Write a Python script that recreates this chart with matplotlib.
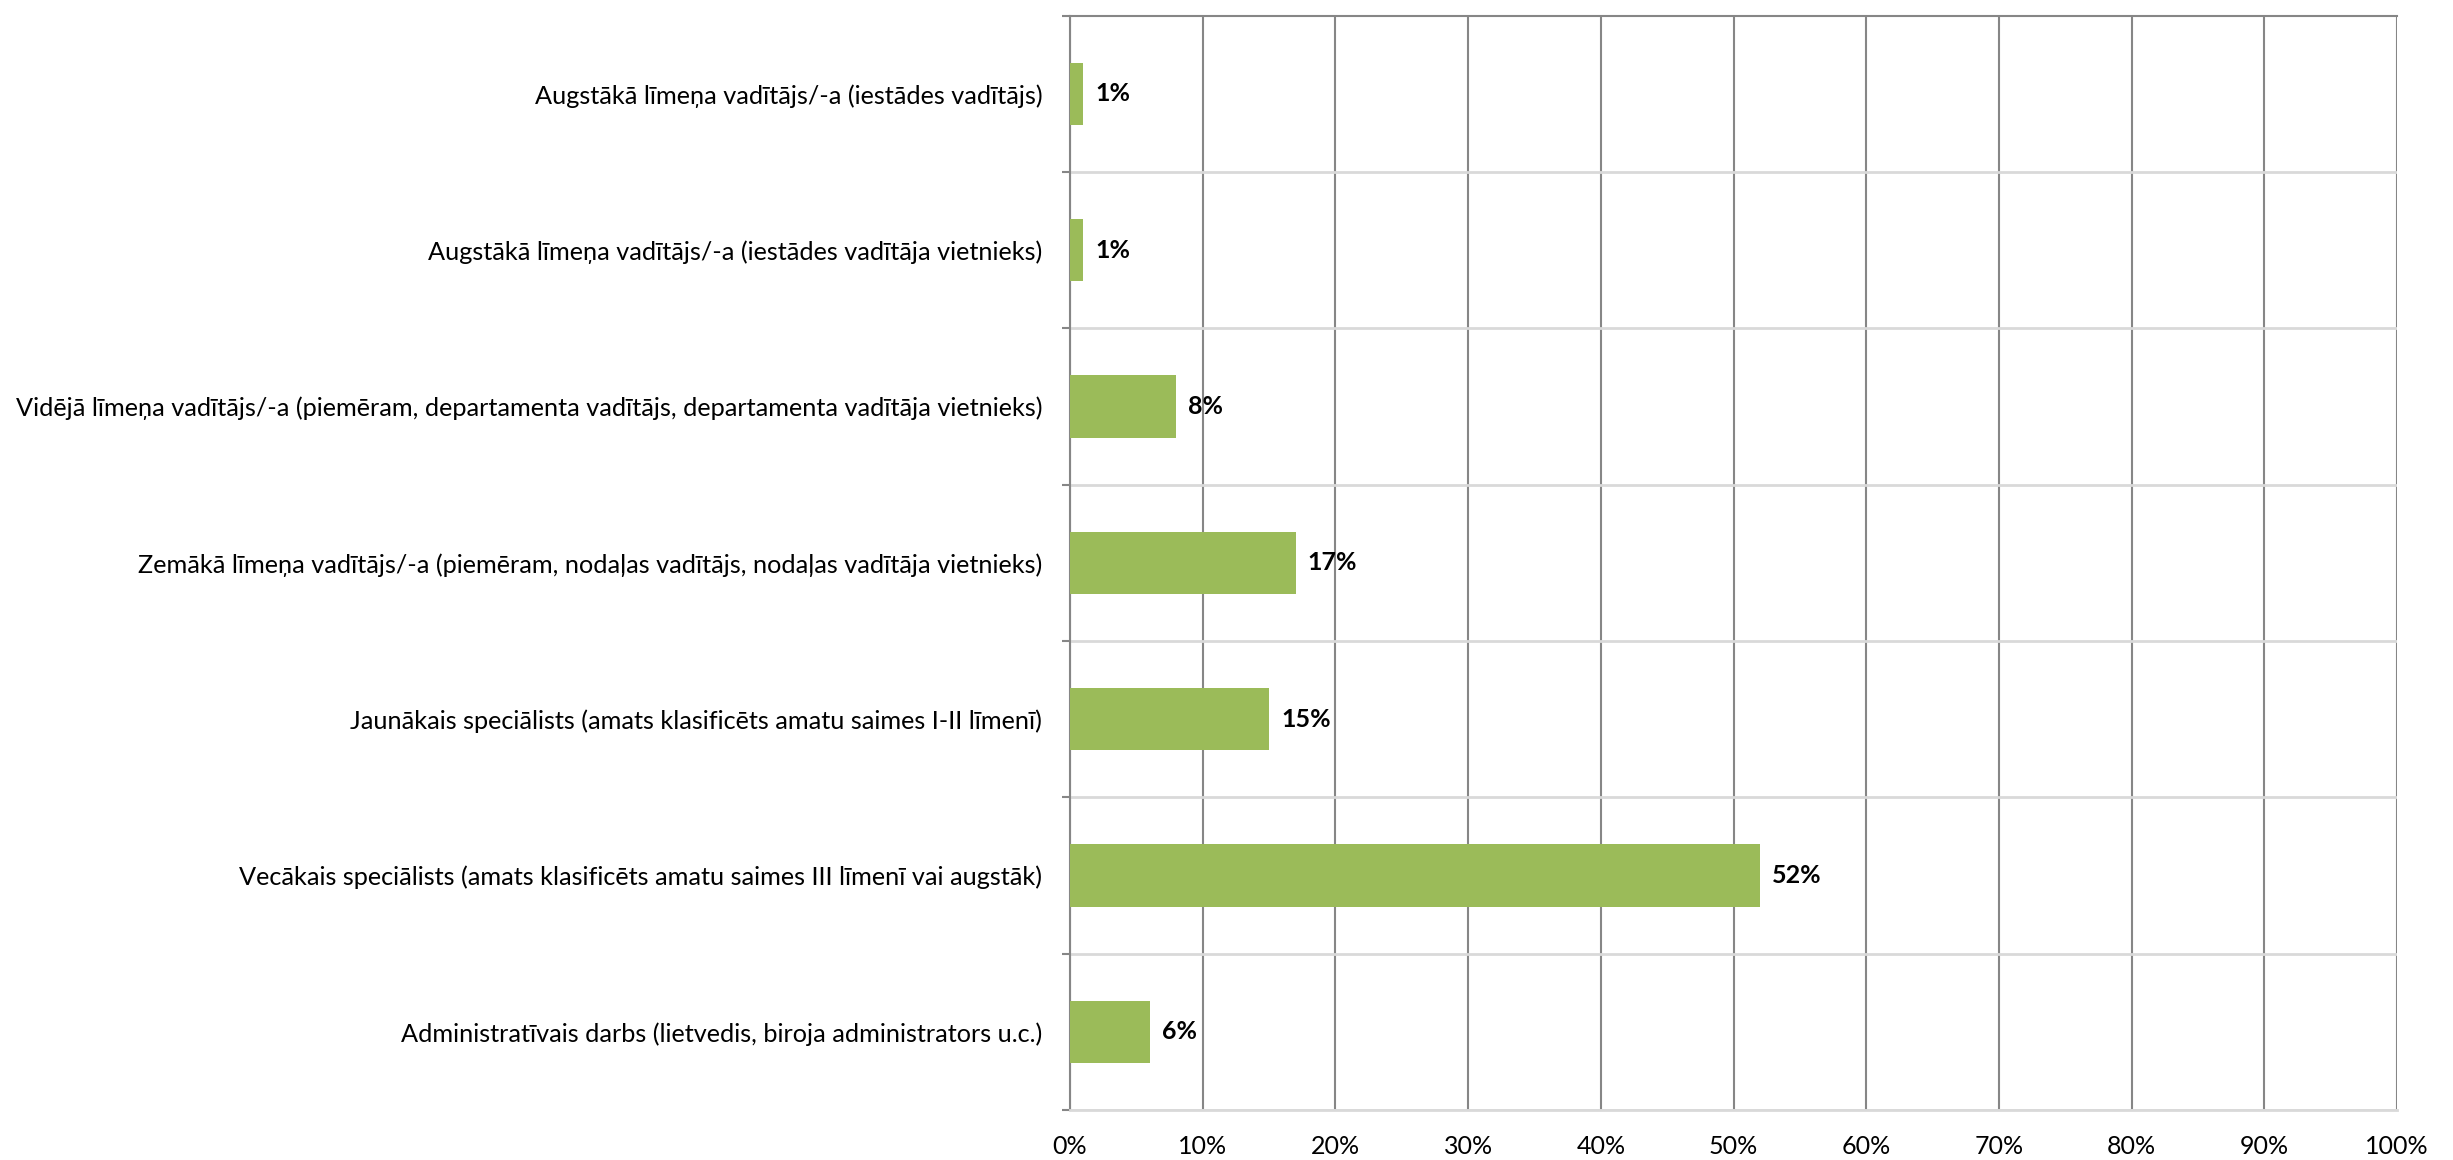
import matplotlib
matplotlib.use('agg')
import matplotlib.pyplot as plt
import numpy as np

plt.rcParams['font.family'] = ['Lato', 'DejaVu Sans']

categories = ['Augstākā līmeņa vadītājs/-a (iestādes vadītājs)',
              'Augstākā līmeņa vadītājs/-a (iestādes vadītāja vietnieks)',
              'Vidējā līmeņa vadītājs/-a (piemēram, departamenta vadītājs, departamenta vadītāja vietnieks)',
              'Zemākā līmeņa vadītājs/-a (piemēram, nodaļas vadītājs, nodaļas vadītāja vietnieks)',
              'Jaunākais speciālists (amats klasificēts amatu saimes I-II līmenī)',
              'Vecākais speciālists (amats klasificēts amatu saimes III līmenī vai augstāk)',
              'Administratīvais darbs (lietvedis, biroja administrators u.c.)']
values = [1, 1, 8, 17, 15, 52, 6]
xticks = [0, 10, 20, 30, 40, 50, 60, 70, 80, 90, 100]

fig = plt.figure(figsize=(24.53, 11.6), dpi=100)
ax = fig.add_axes([0.4362, 0.0431, 0.9772 - 0.4362, 0.9865 - 0.0431])

n = len(categories)
y = np.arange(n)[::-1]
ax.barh(y, values, height=0.4, color='#9BBB59', zorder=3)
for yi, v in zip(y, values):
    ax.text(v + 0.9, yi, str(v) + '%', va='center', ha='left',
            fontsize=18, fontweight='bold', zorder=4)

ax.set_xlim(0, 100)
ax.set_ylim(-0.5, n - 0.5)
ax.set_xticks(xticks)
ax.set_xticklabels([str(t) + '%' for t in xticks], fontsize=18)
ax.set_yticks(y)
ax.set_yticklabels(categories, fontsize=18.2)

# boundary lines between categories
for b in np.arange(-0.5, n - 0.5, 1.0):
    ax.axhline(b, color='#D9D9D9', lw=2, zorder=1)
ax.set_yticks(np.arange(-0.5, n, 1.0), minor=True)
ax.tick_params(axis='y', which='major', length=0, pad=20)
ax.tick_params(axis='y', which='minor', length=6, width=1.5, color='#868686')
ax.tick_params(axis='x', length=0, pad=18)

ax.grid(axis='x', color='#868686', lw=1.5, zorder=2)
ax.set_axisbelow(True)
ax.spines['left'].set_color('#868686')
ax.spines['left'].set_linewidth(1.5)
ax.spines['top'].set_color('#868686')
ax.spines['top'].set_linewidth(1.5)
ax.spines['bottom'].set_color('#D9D9D9')
ax.spines['bottom'].set_linewidth(2)
ax.spines['right'].set_visible(False)

fig.savefig('out.png', dpi=100)
